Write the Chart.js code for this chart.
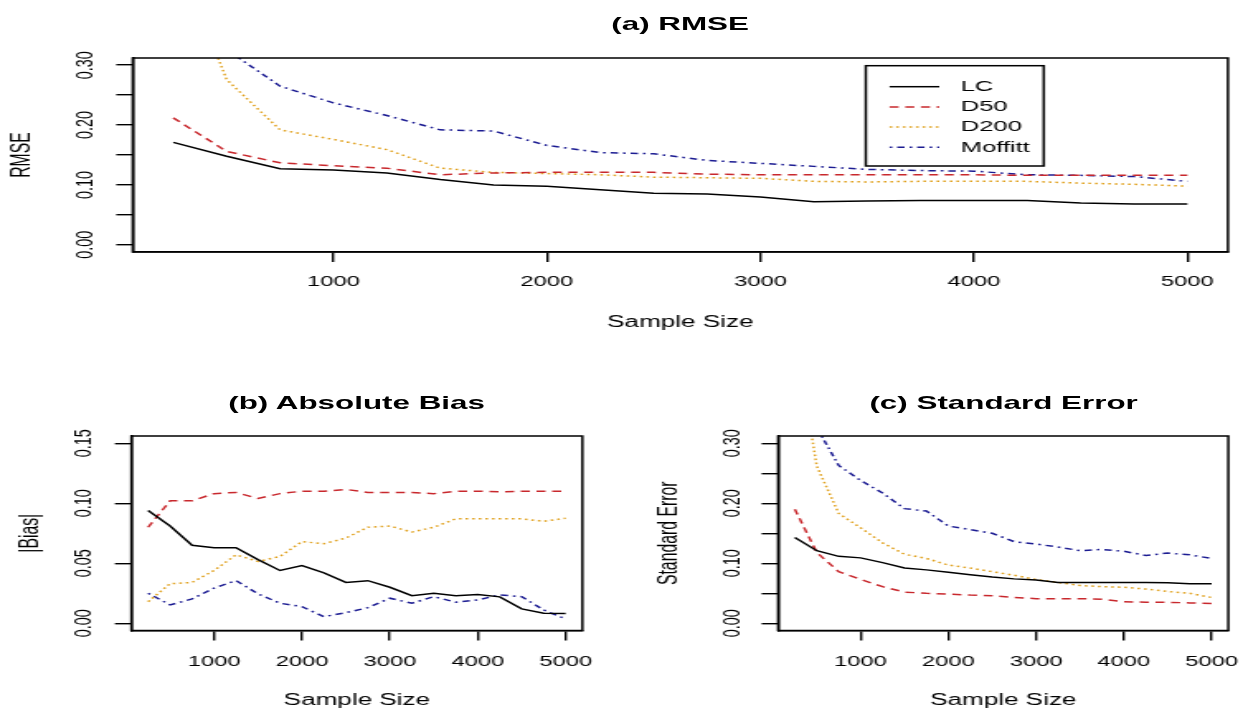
<!DOCTYPE html>
<html>
<head>
<meta charset="utf-8">
<title>RMSE, Absolute Bias, Standard Error</title>
<script src="https://cdn.jsdelivr.net/npm/chart.js@4.4.1/dist/chart.umd.min.js"></script>
<style>
  html, body { margin: 0; padding: 0; background: #fff; overflow: hidden; }
  /* the reference is a stretched R plot: draw it narrow, then widen */
  #page { position: absolute; left: 0; top: 0; width: 753px; height: 713px;
          transform-origin: 0 0; transform: scaleX(1.6507); }
  #page canvas { position: absolute; }
  .main { position: absolute; font: bold 19px "Liberation Sans", Arial, sans-serif; line-height: 19px;
          color: #000; white-space: nowrap; transform: translate(-50%, -50%); }
</style>
</head>
<body>
<div id="page">
  <div class="main" style="left:412px; top:23px">(a) RMSE</div>
  <div class="main" style="left:216px; top:402px">(b) Absolute Bias</div>
  <div class="main" style="left:608px; top:402px">(c) Standard Error</div>
  <canvas id="rmseChart" width="753" height="356" style="left:0;top:0;width:753px;height:356px"></canvas>
  <canvas id="biasChart" width="377" height="357" style="left:0;top:356px;width:377px;height:357px"></canvas>
  <canvas id="seChart" width="377" height="357" style="left:376px;top:356px;width:377px;height:357px"></canvas>
</div>

<script>
// --- DATA ---
const sampleSizes = [250, 500, 750, 1000, 1250, 1500, 1750, 2000, 2250, 2500,
                     2750, 3000, 3250, 3500, 3750, 4000, 4250, 4500, 4750, 5000];
const seriesNames = ['LC', 'D50', 'D200', 'Moffitt'];

const rmseLC      = [0.171, 0.148, 0.127, 0.125, 0.120, 0.109, 0.100, 0.098, 0.092, 0.086,
                     0.085, 0.080, 0.072, 0.073, 0.074, 0.074, 0.074, 0.070, 0.068, 0.068];
const rmseD50     = [0.212, 0.156, 0.137, 0.132, 0.128, 0.117, 0.120, 0.121, 0.121, 0.121,
                     0.118, 0.117, 0.117, 0.117, 0.117, 0.117, 0.116, 0.116, 0.116, 0.116];
const rmseD200    = [0.500, 0.276, 0.192, 0.176, 0.159, 0.128, 0.121, 0.119, 0.117, 0.113,
                     0.112, 0.111, 0.106, 0.105, 0.106, 0.106, 0.106, 0.103, 0.101, 0.098];
const rmseMoffitt = [0.450, 0.326, 0.265, 0.237, 0.216, 0.192, 0.190, 0.166, 0.154, 0.152,
                     0.141, 0.136, 0.131, 0.126, 0.124, 0.123, 0.117, 0.116, 0.114, 0.106];

const biasLC      = [0.094, 0.081, 0.065, 0.063, 0.063, 0.053, 0.044, 0.048, 0.042, 0.034,
                     0.0355, 0.030, 0.023, 0.025, 0.023, 0.024, 0.022, 0.012, 0.0084, 0.0082];
const biasD50     = [0.080, 0.102, 0.102, 0.108, 0.109, 0.104, 0.108, 0.110, 0.110, 0.1115,
                     0.109, 0.109, 0.109, 0.108, 0.110, 0.110, 0.1095, 0.110, 0.110, 0.110];
const biasD200    = [0.018, 0.033, 0.034, 0.044, 0.057, 0.0515, 0.0557, 0.068, 0.0663, 0.071,
                     0.080, 0.081, 0.076, 0.080, 0.087, 0.087, 0.087, 0.087, 0.085, 0.0875];
const biasMoffitt = [0.025, 0.0153, 0.0203, 0.0293, 0.0356, 0.0245, 0.0167, 0.0139, 0.0055, 0.0089,
                     0.013, 0.0209, 0.0167, 0.0222, 0.0176, 0.0195, 0.0237, 0.0222, 0.0111, 0.0036];

const seLC        = [0.143, 0.121, 0.1115, 0.109, 0.101, 0.092, 0.089, 0.085, 0.081, 0.077,
                     0.074, 0.072, 0.068, 0.068, 0.068, 0.068, 0.068, 0.0675, 0.066, 0.066];
const seD50       = [0.190, 0.118, 0.086, 0.073, 0.061, 0.052, 0.050, 0.0485, 0.047, 0.046,
                     0.043, 0.041, 0.041, 0.041, 0.040, 0.036, 0.035, 0.035, 0.034, 0.033];
const seD200      = [0.480, 0.262, 0.183, 0.159, 0.134, 0.115, 0.108, 0.097, 0.092, 0.086,
                     0.080, 0.073, 0.068, 0.063, 0.061, 0.060, 0.057, 0.053, 0.050, 0.043];
const seMoffitt   = [0.450, 0.326, 0.263, 0.238, 0.217, 0.191, 0.187, 0.162, 0.156, 0.150,
                     0.136, 0.132, 0.127, 0.121, 0.123, 0.120, 0.113, 0.117, 0.114, 0.108];

const xTicks       = [1000, 2000, 3000, 4000, 5000];
const yTicksWide   = [0, 0.05, 0.10, 0.15, 0.20, 0.25, 0.30];
const yLabelsWide  = [0, 0.10, 0.20, 0.30];
const yTicksBias   = [0, 0.05, 0.10, 0.15];
const yLabelsBias  = [0, 0.05, 0.10, 0.15];

// --- STYLE ---
const FONT = '"Liberation Sans", Arial, sans-serif';
const lineColors = ['#000000', '#c8282d', '#e0a11e', '#1c1c92'];
const lineDashes = [[], [5.5, 4], [1.6, 2.4], [1.6, 3, 4.5, 3]];

function makeDatasets(valueLists) {
  return valueLists.map((vals, i) => ({
    label: seriesNames[i],
    data: sampleSizes.map((n, j) => ({ x: n, y: vals[j] })),
    borderColor: lineColors[i],
    borderDash: lineDashes[i],
    borderWidth: 1.5,
    pointRadius: 0,
    tension: 0,
    fill: false
  }));
}

// R-style box around the plot region
const framePlugin = {
  id: 'frame',
  afterDatasetsDraw(chart) {
    const { ctx, chartArea: a } = chart;
    ctx.save();
    ctx.strokeStyle = '#000';
    ctx.lineWidth = 1.5;
    ctx.strokeRect(a.left, a.top, a.right - a.left, a.bottom - a.top);
    ctx.restore();
  }
};

// boxed legend inside panel (a)
const boxLegendPlugin = {
  id: 'boxLegend',
  afterDraw(chart) {
    const { ctx, chartArea: a } = chart;
    const x0 = a.right - 219.4, y0 = a.top + 7.7, w = 107.8, h = 100.3;
    ctx.save();
    ctx.strokeStyle = '#000';
    ctx.lineWidth = 1.5;
    ctx.strokeRect(x0, y0, w, h);
    ctx.font = '15.5px ' + FONT;
    ctx.textBaseline = 'middle';
    ctx.textAlign = 'left';
    chart.data.datasets.forEach((ds, i) => {
      const y = y0 + 21 + i * 20.2;
      ctx.strokeStyle = ds.borderColor;
      ctx.lineWidth = ds.borderWidth;
      ctx.setLineDash(ds.borderDash);
      ctx.beginPath();
      ctx.moveTo(x0 + 14.4, y);
      ctx.lineTo(x0 + 44.5, y);
      ctx.stroke();
      ctx.setLineDash([]);
      ctx.fillStyle = '#000';
      ctx.fillText(ds.label, x0 + 57.5, y);
    });
    ctx.restore();
  }
};

function panel(id, valueLists, p) {
  const ctx = document.getElementById(id).getContext('2d');
  const axisGrid = { drawOnChartArea: false, drawTicks: true, tickLength: 10, color: '#000', lineWidth: 1.4 };
  const axisBorder = { display: true, color: '#000', width: 1.5 };
  return new Chart(ctx, {
    type: 'line',
    data: { datasets: makeDatasets(valueLists) },
    plugins: p.legend ? [framePlugin, boxLegendPlugin] : [framePlugin],
    options: {
      responsive: false,
      animation: false,
      devicePixelRatio: 1,
      layout: { padding: { top: p.padTop, right: p.padRight, left: 0, bottom: 0 } },
      plugins: { legend: { display: false }, tooltip: { enabled: false }, title: { display: false } },
      scales: {
        x: {
          type: 'linear',
          min: 60,
          max: 5190,
          afterBuildTicks: s => { s.ticks = xTicks.map(v => ({ value: v })); },
          afterFit: s => { s.height = p.xHeight; s.paddingLeft = 0; s.paddingRight = 0; },
          grid: axisGrid,
          border: axisBorder,
          ticks: {
            color: '#000', font: { family: FONT, size: 14.4 }, padding: p.xTickPad,
            minRotation: 0, maxRotation: 0, autoSkip: false,
            callback: v => String(v)
          },
          title: {
            display: true, text: 'Sample Size', color: '#000',
            font: { family: FONT, size: 15.8 }, padding: { top: 0, bottom: p.xTitlePad }
          }
        },
        y: {
          type: 'linear',
          min: p.yMin,
          max: p.yMax,
          afterBuildTicks: s => { s.ticks = p.yTicks.map(v => ({ value: v })); },
          afterFit: s => { s.width = p.yWidth; s.paddingTop = 0; s.paddingBottom = 0; },
          grid: axisGrid,
          border: axisBorder,
          ticks: {
            color: '#000', font: { family: FONT, size: 14.4 }, padding: p.yTickPad,
            minRotation: 90, maxRotation: 90, crossAlign: 'center', autoSkip: false,
            callback: v => p.yLabels.some(l => Math.abs(l - v) < 1e-9) ? v.toFixed(2) : ''
          },
          title: {
            display: true, text: p.yTitle, color: '#000',
            font: { family: FONT, size: 15.8 }, padding: { top: p.yTitlePad, bottom: 0 }
          }
        }
      }
    }
  });
}

panel('rmseChart', [rmseLC, rmseD50, rmseD200, rmseMoffitt], {
  legend: true, padTop: 58, padRight: 9.1, yWidth: 80.4, xHeight: 104,
  yMin: -0.012, yMax: 0.312, yTicks: yTicksWide, yLabels: yLabelsWide, yTitle: 'RMSE',
  yTitlePad: 4.1, yTickPad: 3.9, xTickPad: 11.1, xTitlePad: 23.5
});

panel('biasChart', [biasLC, biasD50, biasD200, biasMoffitt], {
  legend: false, padTop: 80, padRight: 24.2, yWidth: 79.6, xHeight: 82.5,
  yMin: -0.006, yMax: 0.156, yTicks: yTicksBias, yLabels: yLabelsBias, yTitle: '|Bias|',
  yTitlePad: 9.0, yTickPad: 5, xTickPad: 12.6, xTitlePad: 3
});

panel('seChart', [seLC, seD50, seD200, seMoffitt], {
  legend: false, padTop: 80, padRight: 8.9, yWidth: 95.4, xHeight: 82.5,
  yMin: -0.012, yMax: 0.312, yTicks: yTicksWide, yLabels: yLabelsWide, yTitle: 'Standard Error',
  yTitlePad: 20.2, yTickPad: 3.2, xTickPad: 12.6, xTitlePad: 3
});
</script>
</body>
</html>
